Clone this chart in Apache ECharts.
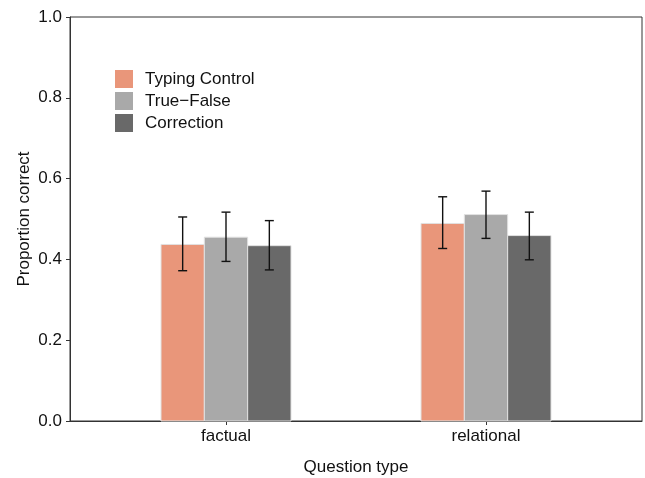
<!DOCTYPE html>
<html>
<head>
<meta charset="utf-8">
<script src="https://cdn.jsdelivr.net/npm/echarts@6/dist/echarts.min.js"></script>
<style>
  html, body { margin: 0; padding: 0; background: #fff; }
  #chart { width: 645px; height: 478px; }
</style>
</head>
<body>
<div id="chart"></div>
<script>
const categories = ['factual', 'relational']
const conditions = ['Typing Control', 'True\u2212False', 'Correction']
const colors = ['#E9967A', '#A9A9A9', '#696969']

// means and error bar ends per condition, one value per category
const typingMean = [0.437, 0.489]
const typingLow = [0.372, 0.427]
const typingHigh = [0.505, 0.555]
const tfMean = [0.455, 0.511]
const tfLow = [0.395, 0.452]
const tfHigh = [0.517, 0.569]
const corrMean = [0.434, 0.459]
const corrLow = [0.374, 0.399]
const corrHigh = [0.496, 0.517]

const yTicks = [0, 0.2, 0.4, 0.6, 0.8, 1.0]

const groups = [
  [typingMean, typingLow, typingHigh],
  [tfMean, tfLow, tfHigh],
  [corrMean, corrLow, corrHigh]
]

const dodge = 0.5 // total width of a group, in axis units
const barW = dodge / conditions.length

function makeSeries(idx) {
  const [mean, low, high] = groups[idx]
  return {
    name: conditions[idx],
    type: 'custom',
    itemStyle: { color: colors[idx] },
    data: categories.map((c, i) => [i + 1, mean[i], low[i], high[i]]),
    renderItem: function (params, api) {
      const x = api.value(0) + (idx - 1) * barW
      const p0 = api.coord([x - barW / 2, api.value(1)])
      const p1 = api.coord([x + barW / 2, 0])
      const pc = api.coord([x, api.value(1)])
      const lo = api.coord([x, api.value(2)])
      const hi = api.coord([x, api.value(3)])
      const cap = 4.5
      const ebStyle = { stroke: '#111', lineWidth: 1.4 }
      return {
        type: 'group',
        children: [
          {
            type: 'rect',
            shape: { x: p0[0], y: p0[1], width: p1[0] - p0[0], height: p1[1] - p0[1] },
            style: { fill: colors[idx], stroke: '#e2e2e2', lineWidth: 1 }
          },
          { type: 'line', shape: { x1: pc[0], y1: lo[1], x2: pc[0], y2: hi[1] }, style: ebStyle },
          { type: 'line', shape: { x1: pc[0] - cap, y1: lo[1], x2: pc[0] + cap, y2: lo[1] }, style: ebStyle },
          { type: 'line', shape: { x1: pc[0] - cap, y1: hi[1], x2: pc[0] + cap, y2: hi[1] }, style: ebStyle }
        ]
      }
    }
  }
}

const chart = echarts.init(document.getElementById('chart'))
const font = 'Liberation Sans, Arial, Helvetica, sans-serif'
const fs = 17

chart.setOption({
  animation: false,
  textStyle: { fontFamily: font },
  grid: {
    left: 70, right: 3, top: 17, bottom: 57,
    outerBoundsMode: 'none',
    containLabel: false,
    show: true, borderColor: '#333', borderWidth: 1
  },
  legend: {
    orient: 'vertical',
    left: 115,
    top: 70,
    padding: 0,
    itemWidth: 18,
    itemHeight: 18,
    itemGap: 4,
    icon: 'rect',
    data: conditions,
    textStyle: { fontSize: fs, color: '#111', fontFamily: font, padding: [0, 0, 0, 7] }
  },
  xAxis: {
    type: 'value',
    min: 0.4,
    max: 2.6,
    name: 'Question type',
    nameLocation: 'middle',
    nameGap: 38,
    nameMoveOverlap: false,
    nameTextStyle: { fontSize: fs, color: '#111', fontFamily: font },
    splitLine: { show: false },
    axisLine: { show: true, lineStyle: { color: '#333', width: 1 } },
    axisTick: { show: true, length: 4, customValues: [1, 2], lineStyle: { color: '#333' } },
    axisLabel: {
      customValues: [1, 2],
      formatter: v => categories[Math.round(v) - 1],
      fontSize: fs, color: '#111', margin: 7, fontFamily: font
    }
  },
  yAxis: {
    type: 'value',
    min: 0,
    max: 1,
    interval: 0.2,
    name: 'Proportion correct',
    nameLocation: 'middle',
    nameGap: 37,
    nameMoveOverlap: false,
    nameRotate: 90,
    nameTextStyle: { fontSize: fs, color: '#111', fontFamily: font },
    splitLine: { show: false },
    axisLine: { show: true, lineStyle: { color: '#333', width: 1 } },
    axisTick: { show: true, length: 4, lineStyle: { color: '#333' } },
    axisLabel: {
      customValues: yTicks,
      formatter: v => v.toFixed(1),
      fontSize: fs, color: '#111', margin: 8, fontFamily: font
    }
  },
  series: conditions.map((c, i) => makeSeries(i))
})
</script>
</body>
</html>
